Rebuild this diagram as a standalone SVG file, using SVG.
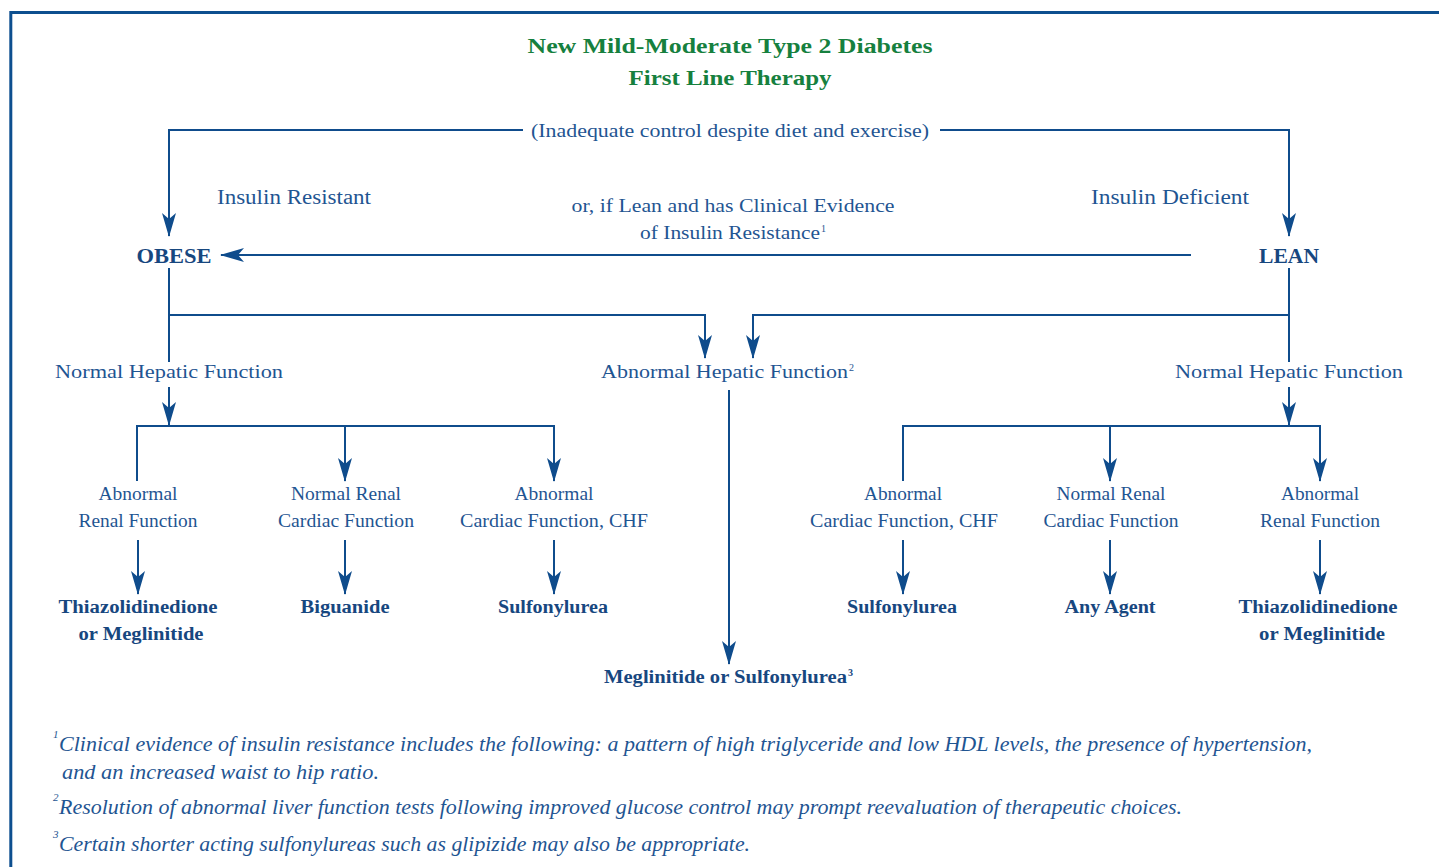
<svg xmlns="http://www.w3.org/2000/svg" width="1439" height="867" viewBox="0 0 1439 867">
<style>
.t{font-family:'Liberation Serif','DejaVu Serif','Noto Serif','Times New Roman',serif;fill:#1f5592;}
.m{text-anchor:middle;}
.b{font-weight:bold;fill:#17477f;}
.n18{font-size:18.5px;}
.n19{font-size:19.5px;}
.n20{font-size:20px;}
.ttl{font-family:'Liberation Serif','DejaVu Serif','Noto Serif','Times New Roman',serif;font-weight:bold;font-size:22px;fill:#16803e;text-anchor:middle;}
.fn{font-family:'Liberation Serif','DejaVu Serif','Noto Serif','Times New Roman',serif;font-style:italic;font-size:20.5px;fill:#1f5592;}
.sup{font-family:'Liberation Serif','DejaVu Serif','Noto Serif','Times New Roman',serif;font-style:italic;font-size:11px;fill:#1f5592;}
.ln{fill:none;stroke:#0f4c8c;stroke-width:2;}
.ar{fill:none;stroke:#0f4c8c;stroke-width:2;marker-end:url(#ah);}
</style>
<defs>
<marker id="ah" markerUnits="userSpaceOnUse" markerWidth="24" markerHeight="14" viewBox="0 0 24 14" refX="23" refY="7" orient="auto">
<path d="M0,0 L24,7 L0,14 L6,7 Z" fill="#0f4c8c"/>
</marker>
</defs>
<rect width="1439" height="867" fill="#ffffff"/>
<path d="M10.8,870 V12.5 H1445" fill="none" stroke="#0d4f8f" stroke-width="3"/>

<g id="title">
<text class="ttl" x="730" y="53" textLength="405" lengthAdjust="spacingAndGlyphs">New Mild-Moderate Type 2 Diabetes</text>
<text class="ttl" x="730" y="85" textLength="203" lengthAdjust="spacingAndGlyphs">First Line Therapy</text>
</g>

<g id="connectors">
<path class="ar" d="M523,130 H169 V236"/>
<path class="ar" d="M940,130 H1289 V236"/>
<path class="ar" d="M1191,255 H221"/>
<path class="ln" d="M169,268 V362"/>
<path class="ar" d="M169,315 H705 V358"/>
<path class="ln" d="M1289,268 V362"/>
<path class="ar" d="M1289,315 H753 V358"/>
<path class="ar" d="M169,387 V425"/>
<path class="ar" d="M1289,387 V425"/>
<path class="ar" d="M137,481 V426 H554 V481"/>
<path class="ar" d="M345,426 V481"/>
<path class="ar" d="M903,481 V426 H1320 V481"/>
<path class="ar" d="M1110,426 V481"/>
<path class="ar" d="M138,540 V594"/>
<path class="ar" d="M345,540 V594"/>
<path class="ar" d="M554,540 V594"/>
<path class="ar" d="M903,540 V594"/>
<path class="ar" d="M1110,540 V594"/>
<path class="ar" d="M1320,540 V594"/>
<path class="ar" d="M729,390 V664"/>
</g>

<g id="condition">
<text class="t n19 m" x="730" y="137" textLength="398" lengthAdjust="spacingAndGlyphs">(Inadequate control despite diet and exercise)</text>
</g>
<g id="insulin-resistant">
<text class="t n20" x="217" y="204" textLength="154" lengthAdjust="spacingAndGlyphs">Insulin Resistant</text>
</g>
<g id="insulin-deficient">
<text class="t n20" x="1091" y="204" textLength="158" lengthAdjust="spacingAndGlyphs">Insulin Deficient</text>
</g>
<g id="lean-note">
<text class="t n18 m" x="733" y="212" textLength="323" lengthAdjust="spacingAndGlyphs">or, if Lean and has Clinical Evidence</text>
<text class="t n18" x="640" y="239" textLength="180" lengthAdjust="spacingAndGlyphs">of Insulin Resistance</text>
<text class="t" x="821" y="232" font-size="10">1</text>
</g>
<g id="obese">
<text class="t b m" x="174" y="263" font-size="21.5px" textLength="75" lengthAdjust="spacingAndGlyphs">OBESE</text>
</g>
<g id="lean">
<text class="t b m" x="1289" y="263" font-size="21.5px" textLength="60" lengthAdjust="spacingAndGlyphs">LEAN</text>
</g>
<g id="normal-hepatic-left">
<text class="t n19 m" x="169" y="378" textLength="228" lengthAdjust="spacingAndGlyphs">Normal Hepatic Function</text>
</g>
<g id="abnormal-hepatic">
<text class="t n19" x="601" y="378" textLength="247" lengthAdjust="spacingAndGlyphs">Abnormal Hepatic Function</text>
<text class="t" x="849" y="371" font-size="10">2</text>
</g>
<g id="normal-hepatic-right">
<text class="t n19 m" x="1289" y="378" textLength="228" lengthAdjust="spacingAndGlyphs">Normal Hepatic Function</text>
</g>

<g id="left-abnormal-renal">
<text class="t n18 m" x="138" y="500" textLength="79" lengthAdjust="spacingAndGlyphs">Abnormal</text>
<text class="t n18 m" x="138" y="527" textLength="119" lengthAdjust="spacingAndGlyphs">Renal Function</text>
</g>
<g id="left-normal-renal">
<text class="t n18 m" x="346" y="500" textLength="110" lengthAdjust="spacingAndGlyphs">Normal Renal</text>
<text class="t n18 m" x="346" y="527" textLength="136" lengthAdjust="spacingAndGlyphs">Cardiac Function</text>
</g>
<g id="left-abnormal-cardiac">
<text class="t n18 m" x="554" y="500" textLength="79" lengthAdjust="spacingAndGlyphs">Abnormal</text>
<text class="t n18 m" x="554" y="527" textLength="188" lengthAdjust="spacingAndGlyphs">Cardiac Function, CHF</text>
</g>
<g id="right-abnormal-cardiac">
<text class="t n18 m" x="903" y="500" textLength="78" lengthAdjust="spacingAndGlyphs">Abnormal</text>
<text class="t n18 m" x="904" y="527" textLength="188" lengthAdjust="spacingAndGlyphs">Cardiac Function, CHF</text>
</g>
<g id="right-normal-renal">
<text class="t n18 m" x="1111" y="500" textLength="109" lengthAdjust="spacingAndGlyphs">Normal Renal</text>
<text class="t n18 m" x="1111" y="527" textLength="135" lengthAdjust="spacingAndGlyphs">Cardiac Function</text>
</g>
<g id="right-abnormal-renal">
<text class="t n18 m" x="1320" y="500" textLength="78" lengthAdjust="spacingAndGlyphs">Abnormal</text>
<text class="t n18 m" x="1320" y="527" textLength="120" lengthAdjust="spacingAndGlyphs">Renal Function</text>
</g>

<g id="left-tzd">
<text class="t b n18 m" x="138" y="613" textLength="159" lengthAdjust="spacingAndGlyphs">Thiazolidinedione</text>
<text class="t b n18 m" x="141" y="640" textLength="125" lengthAdjust="spacingAndGlyphs">or Meglinitide</text>
</g>
<g id="biguanide">
<text class="t b n18 m" x="345" y="613" textLength="89" lengthAdjust="spacingAndGlyphs">Biguanide</text>
</g>
<g id="left-sulfonylurea">
<text class="t b n18 m" x="553" y="613" textLength="110" lengthAdjust="spacingAndGlyphs">Sulfonylurea</text>
</g>
<g id="right-sulfonylurea">
<text class="t b n18 m" x="902" y="613" textLength="110" lengthAdjust="spacingAndGlyphs">Sulfonylurea</text>
</g>
<g id="any-agent">
<text class="t b n18 m" x="1110" y="613" textLength="91" lengthAdjust="spacingAndGlyphs">Any Agent</text>
</g>
<g id="right-tzd">
<text class="t b n18 m" x="1318" y="613" textLength="159" lengthAdjust="spacingAndGlyphs">Thiazolidinedione</text>
<text class="t b n18 m" x="1322" y="640" textLength="126" lengthAdjust="spacingAndGlyphs">or Meglinitide</text>
</g>
<g id="meglinitide-sulfonylurea">
<text class="t b n18" x="604" y="683" textLength="243" lengthAdjust="spacingAndGlyphs">Meglinitide or Sulfonylurea</text>
<text class="t b" x="848" y="676" font-size="10">3</text>
</g>

<g id="footnotes">
<text class="sup" x="53" y="738">1</text>
<text class="fn" x="59" y="751" textLength="1253" lengthAdjust="spacingAndGlyphs">Clinical evidence of insulin resistance includes the following: a pattern of high triglyceride and low HDL levels, the presence of hypertension,</text>
<text class="fn" x="62" y="779" textLength="317" lengthAdjust="spacingAndGlyphs">and an increased waist to hip ratio.</text>
<text class="sup" x="53" y="801">2</text>
<text class="fn" x="59" y="814" textLength="1123" lengthAdjust="spacingAndGlyphs">Resolution of abnormal liver function tests following improved glucose control may prompt reevaluation of therapeutic choices.</text>
<text class="sup" x="53" y="838">3</text>
<text class="fn" x="59" y="851" textLength="691" lengthAdjust="spacingAndGlyphs">Certain shorter acting sulfonylureas such as glipizide may also be appropriate.</text>
</g>
</svg>
